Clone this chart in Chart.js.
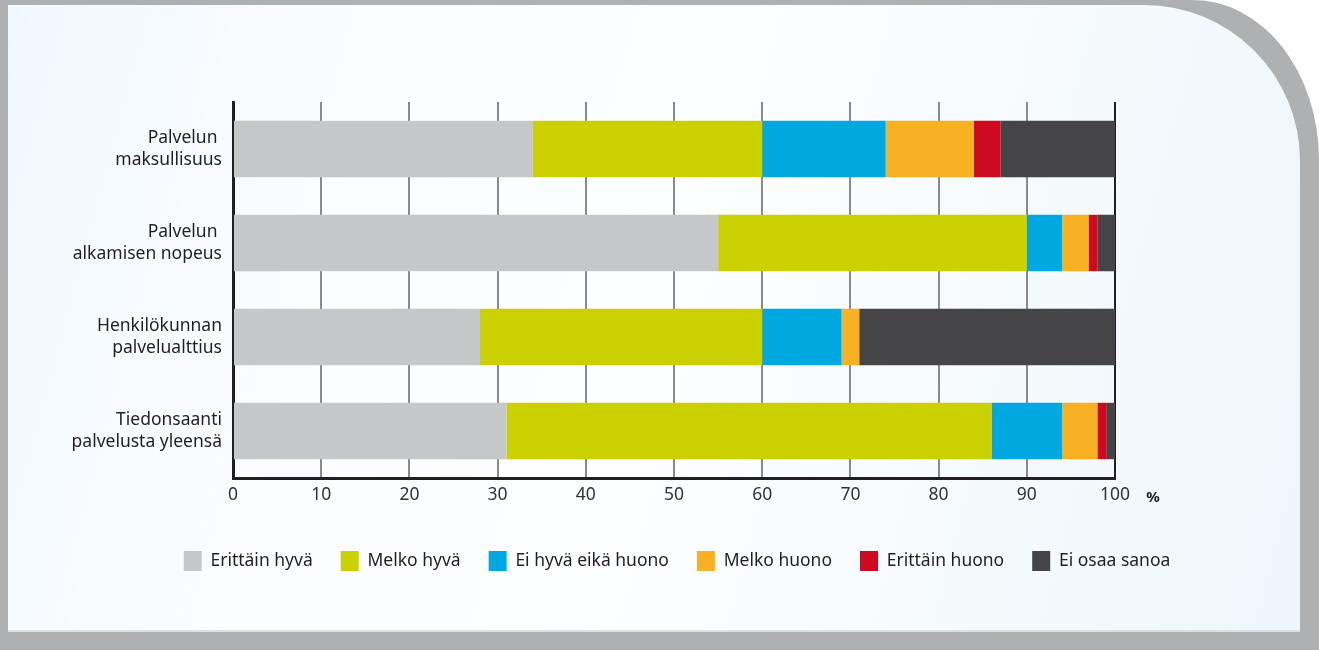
<!DOCTYPE html>
<html>
<head>
<meta charset="utf-8">
<script src="https://cdn.jsdelivr.net/npm/chart.js@4/dist/chart.umd.min.js"></script>
<style>
    html, body { margin: 0; padding: 0; overflow: hidden; background: #fff; }
    body { width: 1319px; height: 650px; position: relative; }
    #frame {
        position: absolute; left: 0; top: 0; width: 1319px; height: 650px;
        background: #afb0b2;
        border-top-right-radius: 126px 160px;
    }
    #panel {
        position: absolute; left: 8px; top: 5px; width: 1292px; height: 625px;
        border-top-right-radius: 156px;
        border-bottom: 2px solid #d9e1e5;
        background: linear-gradient(105deg, #f1f8fd 0%, #fafcff 25%, #fdfeff 50%, #f4f9fc 78%, #eef6fb 100%);
    }
    #wrap { position: absolute; left: 0; top: 0; width: 1354px; height: 650px; }
</style>
</head>
<body>
<div id="frame"></div>
<div id="panel"></div>
<div id="wrap"><canvas id="surveyChart"></canvas></div>
<script>
const categories = [
    ["Palvelun ", "maksullisuus"],
    ["Palvelun ", "alkamisen nopeus"],
    ["Henkilökunnan", "palvelualttius"],
    ["Tiedonsaanti", "palvelusta yleensä"]
];

const seriesNames = ["Erittäin hyvä", "Melko hyvä", "Ei hyvä eikä huono", "Melko huono", "Erittäin huono", "Ei osaa sanoa"];
const seriesColors = ["#c6c7c9", "#cbd100", "#00a8e2", "#f7b122", "#cf0a20", "#454547"];

const erittainHyva = [34, 55, 28, 31];
const melkoHyva = [26, 35, 32, 55];
const eiHyvaEikaHuono = [14, 4, 9, 8];
const melkoHuono = [10, 3, 2, 4];
const erittainHuono = [3, 1, 0, 1];
const eiOsaaSanoa = [13, 2, 29, 1];

const xTicks = [0, 10, 20, 30, 40, 50, 60, 70, 80, 90, 100];
const unitLabel = "%";

const seriesValues = [erittainHyva, melkoHyva, eiHyvaEikaHuono, melkoHuono, erittainHuono, eiOsaaSanoa];

const fontFamily = "'Noto Sans', 'Open Sans', sans-serif";
const fontSize = 17.5;

// draws the "%" after the last tick
const unitPlugin = {
    id: "unitLabel",
    afterDraw(chart) {
        const ctx = chart.ctx;
        const x = chart.scales.x;
        ctx.save();
        ctx.font = "bold 15px " + fontFamily;
        ctx.fillStyle = "#231f20";
        ctx.textAlign = "center";
        ctx.textBaseline = "middle";
        ctx.fillText(unitLabel, x.right + 38, x.top + 20);
        ctx.restore();
    }
};

const ctx = document.getElementById("surveyChart").getContext("2d");

const surveyChart = new Chart(ctx, {
    type: "bar",
    data: {
        labels: categories,
        datasets: seriesValues.map((vals, i) => ({
            label: seriesNames[i],
            data: vals,
            backgroundColor: seriesColors[i],
            borderWidth: 0,
            categoryPercentage: 1,
            barPercentage: 0.6
        }))
    },
    options: {
        indexAxis: "y",
        responsive: true,
        maintainAspectRatio: false,
        animation: false,
        layout: {
            padding: { top: 102, left: 0, right: 0, bottom: 69 }
        },
        scales: {
            x: {
                stacked: true,
                min: 0,
                max: 100,
                afterBuildTicks: (scale) => {
                    scale.ticks = xTicks.map(v => ({ value: v }));
                },
                afterFit: (scale) => { scale.height = 45; },
                grid: {
                    drawTicks: false,
                    lineWidth: 2,
                    color: (c) => (c.tick && c.tick.value === 100) ? "#231f20" : "#8a8a8a"
                },
                border: { display: true, color: "#231f20", width: 3 },
                ticks: {
                    padding: 7,
                    color: "#333333",
                    font: { family: fontFamily, size: fontSize }
                }
            },
            y: {
                stacked: true,
                afterFit: (scale) => { scale.width = 233; },
                grid: { display: false, drawTicks: false },
                border: { display: true, color: "#231f20", width: 3 },
                ticks: {
                    padding: 11,
                    color: "#231f20",
                    font: { family: fontFamily, size: fontSize, lineHeight: 1.3 }
                }
            },
            y2: {
                position: "right",
                display: true,
                afterFit: (scale) => { scale.width = 239; },
                grid: { display: false, drawTicks: false },
                border: { display: false },
                ticks: { display: false }
            }
        },
        plugins: {
            legend: {
                position: "bottom",
                labels: {
                    boxWidth: 18,
                    boxHeight: 20,
                    padding: 28,
                    color: "#231f20",
                    font: { family: fontFamily, size: fontSize }
                }
            },
            tooltip: { enabled: false }
        }
    },
    plugins: [unitPlugin]
});
</script>
</body>
</html>
